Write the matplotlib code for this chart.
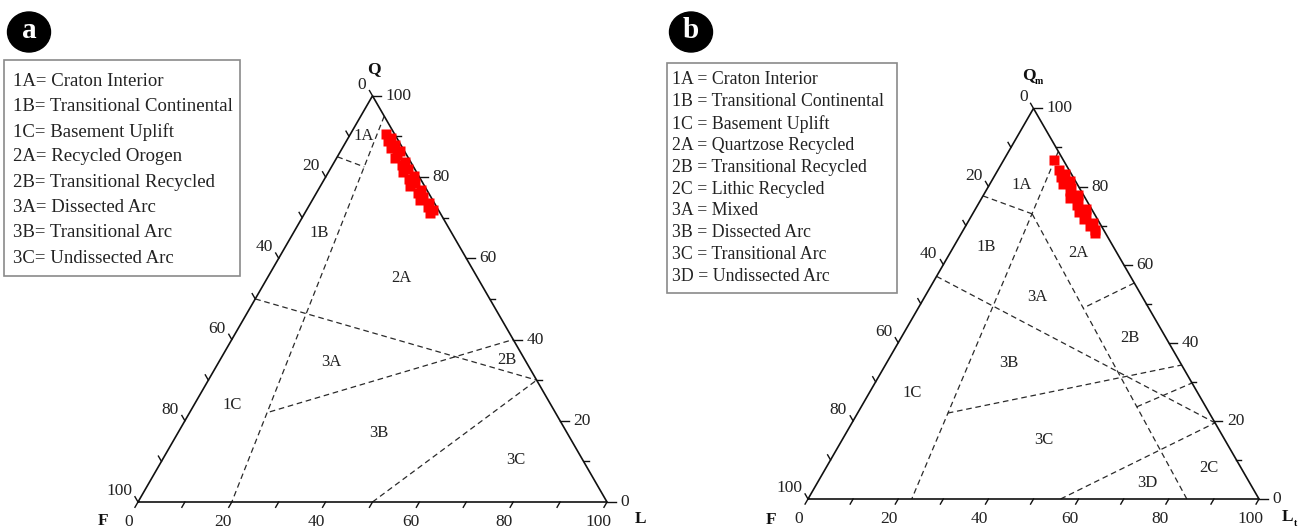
import numpy as np
import matplotlib.pyplot as plt
from matplotlib.patches import Rectangle, Ellipse

plt.rcParams['font.family'] = ['Liberation Serif', 'DejaVu Serif']

W, H = 1311, 532

# ---- sample compositions (percent) ----
# panel a: Q-F-L, L = 100 - Q - F
qfl_Q = [90.6, 89.7, 88.8, 88.0, 87.1, 86.3, 85.4, 84.6, 83.7, 82.9, 82.0, 81.2,
         80.3, 79.5, 78.6, 77.8, 76.9, 76.1, 75.2, 74.4, 73.5, 72.7, 71.8, 71.2]
qfl_F = [1.9, 1.1, 2.3, 1.2, 2.6, 1.0, 2.0, 2.8, 1.2, 2.3, 1.5, 3.0, 1.0,
         2.4, 1.7, 3.0, 1.2, 2.2, 1.6, 2.6, 1.1, 1.9, 1.3, 2.2]

# panel b: Qm-F-Lt, Lt = 100 - Qm - F
qm_Q = [86.8, 84.2, 83.3, 82.4, 81.5, 80.6, 79.7, 78.8, 77.9, 77.0, 76.1, 75.2,
        74.3, 73.4, 72.5, 71.6, 70.7, 69.8, 68.9, 68.0]
qm_F = [2.1, 2.2, 1.3, 2.8, 1.2, 3.1, 1.9, 2.6, 1.2, 3.3, 2.0, 2.8, 1.3,
        3.2, 2.2, 3.0, 1.5, 2.6, 2.0, 2.3]

# ---- field boundaries: end points as (Q, F, L) ----
qfl_lines = [
    [(95, 0, 5), (0, 80, 20)],
    [(85, 15, 0), (82.5, 10.5, 7.0)],
    [(50, 50, 0), (30, 0, 70)],
    [(22.2, 60.8, 17), (40, 0, 60)],
    [(0, 50, 50), (30, 0, 70)],
]
qm_lines = [
    [(89, 0, 11), (0, 77, 23)],
    [(77.6, 22.4, 0), (73, 13.8, 13.2)],
    [(57, 43, 0), (19.5, 0, 80.5)],
    [(73, 13.8, 13.2), (0, 16, 84)],
    [(55.3, 0, 44.7), (48.9, 14.5, 36.6)],
    [(22, 58, 20), (34.3, 0, 65.7)],
    [(23.6, 15.3, 61.1), (29.7, 0, 70.3)],
    [(0, 44, 56), (19.5, 0, 80.5)],
]

qfl_fields = ['1A', '1B', '2A', '3A', '2B', '1C', '3B', '3C']
qfl_field_px = [(364, 136), (319, 233), (401, 278), (331, 362), (507, 360),
                (232, 405), (379, 433), (516, 460)]
qm_fields = ['1A', '1B', '2A', '3A', '2B', '3B', '1C', '3C', '3D', '2C']
qm_field_px = [(1022, 185), (986, 247), (1078, 253), (1037, 297), (1130, 338),
               (1009, 363), (912, 393), (1044, 440), (1147, 483), (1209, 468)]

qfl_legend = ['1A= Craton Interior', '1B= Transitional Continental',
              '1C= Basement Uplift', '2A= Recycled Orogen',
              '2B= Transitional Recycled', '3A= Dissected Arc',
              '3B= Transitional Arc', '3C= Undissected Arc']
qm_legend = ['1A = Craton Interior', '1B = Transitional Continental',
             '1C = Basement Uplift', '2A = Quartzose Recycled',
             '2B = Transitional Recycled', '2C = Lithic Recycled',
             '3A = Mixed', '3B = Dissected Arc', '3C = Transitional Arc',
             '3D = Undissected Arc']

tick_values = list(range(0, 101, 10))
S3 = np.sqrt(3) / 2


def to_xy(q, l):
    return l + q / 2.0, q * S3


fig = plt.figure(figsize=(W / 100, H / 100), dpi=100)

# overlay axes in pixel coordinates (y down) for legends / panel letters
ax0 = fig.add_axes([0, 0, 1, 1])
ax0.set_xlim(0, W)
ax0.set_ylim(H, 0)
ax0.axis('off')


def ternary(fpx, scale, Q, F, lines):
    # full-figure axes, 1 percent unit = scale pixels in both directions
    ax = fig.add_axes([0, 0, 1, 1])
    ax.set_facecolor('none')
    x0, y0 = fpx[0], H - fpx[1]
    ax.set_xlim(-x0 / scale, (W - x0) / scale)
    ax.set_ylim(-y0 / scale, (H - y0) / scale)
    ax.axis('off')

    # outline
    tx, ty = to_xy(np.array([0, 0, 100, 0]), np.array([0, 100, 0, 0]))
    ax.plot(tx, ty, color='#111111', lw=1.2, solid_joinstyle='miter', zorder=3)

    # field boundaries
    for p0, p1 in lines:
        xa, ya = to_xy(p0[0], p0[2])
        xb, yb = to_xy(p1[0], p1[2])
        ax.plot([xa, xb], [ya, yb], color='#2a2a2a', lw=0.9,
                linestyle=(0, (4.5, 3)), zorder=2)

    # ticks
    tl = 1.3
    for v in tick_values:
        major = v % 20 == 0
        # bottom edge (L)
        bx, by = to_xy(0, v)
        ax.plot([bx, bx - 0.5 * tl], [by, by - S3 * tl], color='#111111', lw=1)
        # left edge (F)
        lx, ly = to_xy(100 - v, 0)
        ax.plot([lx, lx - 0.5 * tl], [ly, ly + S3 * tl], color='#111111', lw=1)
        # right edge (Q)
        rx, ry = to_xy(v, 100 - v)
        rl = 1.9 if major else 1.1
        ax.plot([rx, rx + rl], [ry, ry], color='#111111', lw=1)
        if major:
            kw = dict(textcoords='offset pixels', fontsize=12.5, color='#222222')
            ax.annotate(str(v), (bx, by), xytext=(-9, -20), ha='center', va='center', **kw)
            ax.annotate(str(v), (lx, ly), xytext=(-6, 11), ha='right', va='center', **kw)
            ax.annotate(str(v), (rx, ry), xytext=(13, 0), ha='left', va='center', **kw)

    # samples
    q = np.array(Q)
    f = np.array(F)
    l = 100 - q - f
    sx, sy = to_xy(q, l)
    ax.plot(sx, sy, 's', color='#ff0000', ms=7.2, mec='none', zorder=4)
    return ax


ax_a = ternary((138, 502), 4.69, qfl_Q, qfl_F, qfl_lines)
ax_b = ternary((808, 499), 4.51, qm_Q, qm_F, qm_lines)

# field labels
for name, (px, py) in zip(qfl_fields, qfl_field_px):
    ax0.text(px, py, name, ha='center', va='center', fontsize=12, color='#222222')
for name, (px, py) in zip(qm_fields, qm_field_px):
    ax0.text(px, py, name, ha='center', va='center', fontsize=12, color='#222222')

# apex titles
tkw = dict(ha='center', va='center', fontsize=12.5, fontweight='bold', color='#111111')
ax0.text(374, 69, 'Q', **tkw)
ax0.text(103, 521, 'F', **tkw)
ax0.text(640, 519, 'L', **tkw)
ax0.text(1029, 75, 'Q', **tkw)
ax0.text(1039, 81, 'm', ha='center', va='center', fontsize=7, fontweight='bold')
ax0.text(771, 520, 'F', **tkw)
ax0.text(1287, 517, 'L', **tkw)
ax0.text(1295, 523, 't', ha='center', va='center', fontsize=7, fontweight='bold')

# legend boxes
ax0.add_patch(Rectangle((4, 60), 236, 216, fill=False, ec='#8a8a8a', lw=1.2))
for i, s in enumerate(qfl_legend):
    ax0.text(13, 81 + i * 25.3, s, ha='left', va='center', fontsize=13.5, color='#222222')
ax0.add_patch(Rectangle((667, 63), 230, 230, fill=False, ec='#8a8a8a', lw=1.2))
for i, s in enumerate(qm_legend):
    ax0.text(672, 80 + i * 21.8, s, ha='left', va='center', fontsize=12.8, color='#222222')

# panel letters
for (cx, cy), letter in [((29, 32), 'a'), ((691, 32), 'b')]:
    ax0.add_patch(Ellipse((cx, cy), 43, 40, color='black'))
    ax0.text(cx, cy - 1, letter, ha='center', va='center', fontsize=21,
             fontweight='bold', color='white')

fig.savefig('out.png', dpi=100)
